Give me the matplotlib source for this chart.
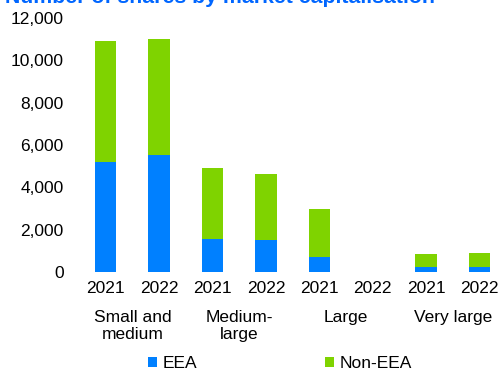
import matplotlib.pyplot as plt
from matplotlib.ticker import FuncFormatter

plt.rcParams['font.family'] = ['Liberation Sans', 'DejaVu Sans']

# data
years = ['2021', '2022', '2021', '2022', '2021', '2022', '2021', '2022']
groups = ['Small and\nmedium', 'Medium-\nlarge', 'Large', 'Very large']
eea = [5200, 5550, 1570, 1520, 720, 0, 220, 250]
non_eea = [5700, 5450, 3350, 3100, 2250, 0, 630, 650]

BLUE = '#0080ff'
GREEN = '#7fd300'
FS = 12.5

W, H = 501, 374
fig = plt.figure(figsize=(W / 100, H / 100), dpi=100)
# axes placed in pixel terms: y=0 at row 272, 12000 at row 18, first bar centre at col 105
ax = fig.add_axes([79 / W, (H - 272) / H, (W - 79) / W, 254 / H])

x = list(range(len(years)))
ax.bar(x, eea, width=0.4, color=BLUE, label='EEA')
ax.bar(x, non_eea, width=0.4, bottom=eea, color=GREEN, label='Non-EEA')

ax.set_ylim(0, 12000)
ax.set_xlim(-0.5, -0.5 + (W - 79) / 53.4)
ax.set_yticks(range(0, 12001, 2000))
ax.yaxis.set_major_formatter(FuncFormatter(lambda v, p: f'{int(v):,}'))
ax.set_xticks(x)
ax.set_xticklabels(years)
ax.tick_params(axis='both', length=0, labelsize=FS)
ax.tick_params(axis='x', pad=6.5)
ax.tick_params(axis='y', pad=11)
for s in ax.spines.values():
    s.set_visible(False)

for i, g in enumerate(groups):
    ax.text(2 * i + 0.5, -0.15, g, transform=ax.get_xaxis_transform(),
            ha='center', va='top', fontsize=FS, linespacing=1.15)

fig.text(5 / W, 1 - 3 / H, 'Number of shares by market capitalisation',
         color='#0066ff', fontsize=15.3, fontweight='bold', va='baseline', ha='left')

fig.legend(loc='center', bbox_to_anchor=(280 / W, 1 - 364 / H), ncol=2,
           frameon=False, fontsize=FS, handlelength=0.5, handleheight=0.5,
           handletextpad=0.3, columnspacing=7.4, borderpad=0)

fig.savefig('out.png', dpi=100)
